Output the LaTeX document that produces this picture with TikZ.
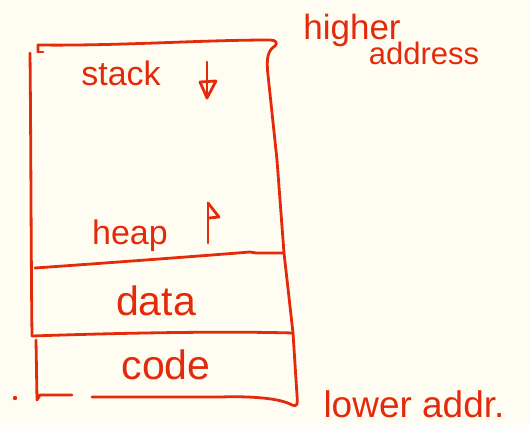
\documentclass[tikz,border=0pt]{standalone}
\usepackage{fontspec}
\setmainfont{Liberation Sans}
\definecolor{ink}{HTML}{E42A0C}
\definecolor{paper}{HTML}{FFFDF2}
\begin{document}
\begin{tikzpicture}[x=1pt,y=-1pt,
  pen/.style={draw=ink,line width=2.8pt,line cap=round,line join=round},
  lbl/.style={text=ink,inner sep=0pt,font=\fontsize{34}{34}\selectfont},
  big/.style={text=ink,inner sep=0pt,font=\fontsize{41}{41}\selectfont},
  note/.style={text=ink,inner sep=0pt,font=\fontsize{31}{31}\selectfont}]
\fill[paper] (0,0) rectangle (529,425);
\useasboundingbox (0,0) rectangle (529,425);

% memory block outline
\draw[pen] (38,52) -- (38,45) .. controls (120,46) and (200,40) .. (270,40)
  .. controls (276,40) and (278,43) .. (275,46)
  .. controls (268,50) and (266,58) .. (268,75)
  -- (277,160) -- (284,253) -- (293,333) -- (297,395)
  .. controls (298,405) and (297,407) .. (292,405)
  .. controls (280,398) and (250,396) .. (220,397) -- (92,397);
\draw[pen] (38,52) -- (43,52);
\draw[pen] (30,53) .. controls (31,150) and (31,250) .. (32,336);

% section dividers
\draw[pen] (35,268) .. controls (120,262) and (200,256) .. (250,252) -- (256,253) -- (283,253);
\draw[pen] (32,336) .. controls (120,333) and (220,331) .. (293,333);
\draw[pen] (36,340) -- (37,400) -- (40,395) -- (72,395);

% stray pen dot
\fill[ink] (15,398) circle (2.2);

% labels
\node[lbl] (stack) at (121,73) {stack};
\node[lbl] (heap) at (130,236) {heap};
\node[big] (data) at (156,301) {data};
\node[big] (code) at (166,365) {code};
\node[note,font=\fontsize{35}{35}\selectfont] (high) at (352,30) {higher};
\node[note] (addr) at (424,53) {address};
\node[note,font=\fontsize{37}{37}\selectfont] (low) at (414,404) {lower addr.};

% growth directions
\draw[pen] (207,62) -- (207,98);
\draw[pen] (200,82) -- (216,81) -- (207,98) -- cycle;
\draw[pen] (208,243) -- (208,203);
\draw[pen] (208,203) -- (219,217) -- (209,218);
\end{tikzpicture}
\end{document}
